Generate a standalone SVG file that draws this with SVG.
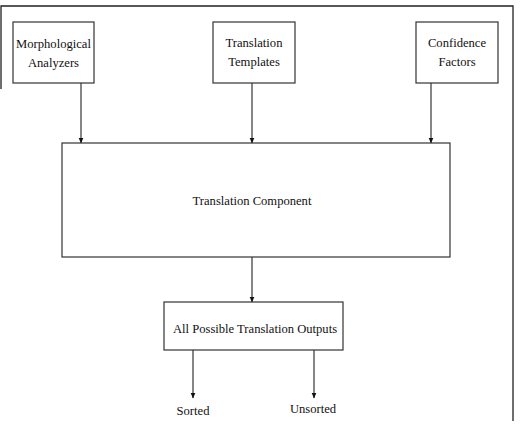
<svg xmlns="http://www.w3.org/2000/svg" width="520" height="426" viewBox="0 0 520 426">
<style>
.box{fill:#fff;stroke:#333;stroke-width:1.2}
.lbl{font-family:"Liberation Serif","Times New Roman",serif;font-size:12.6px;fill:#111;text-anchor:middle}
.con{stroke:#222;stroke-width:1.1;fill:none;marker-end:url(#ah)}
.frame{stroke:#222;stroke-width:1.3;fill:none}
</style>
<defs>
<marker id="ah" markerWidth="6" markerHeight="8" refX="5.5" refY="3" orient="auto" markerUnits="userSpaceOnUse">
<path d="M0,0.5 L6,3 L0,5.5 Z" fill="#111"/>
</marker>
</defs>
<rect width="520" height="426" fill="#fff"/>
<g id="frame">
<path class="frame" d="M1,89 L1,6 L513,6 L513,421"/>
</g>
<g id="connectors">
<line class="con" x1="81" y1="83" x2="81" y2="143"/>
<line class="con" x1="252" y1="83" x2="252" y2="143"/>
<line class="con" x1="431" y1="83" x2="431" y2="143"/>
<line class="con" x1="252" y1="257" x2="252" y2="302"/>
<line class="con" x1="193" y1="350" x2="193" y2="398"/>
<line class="con" x1="314" y1="350" x2="314" y2="398"/>
</g>
<g id="morph">
<rect class="box" x="13" y="22" width="81" height="61"/>
<text class="lbl" x="53.5" y="48">Morphological</text>
<text class="lbl" x="53.5" y="67">Analyzers</text>
</g>
<g id="templates">
<rect class="box" x="213" y="22" width="82" height="61"/>
<text class="lbl" x="254" y="47">Translation</text>
<text class="lbl" x="254" y="66">Templates</text>
</g>
<g id="confidence">
<rect class="box" x="416" y="22" width="82" height="61"/>
<text class="lbl" x="457" y="47">Confidence</text>
<text class="lbl" x="457" y="66">Factors</text>
</g>
<g id="component">
<rect class="box" x="62" y="143" width="388" height="114"/>
<text class="lbl" x="252" y="205">Translation Component</text>
</g>
<g id="outputs">
<rect class="box" x="164" y="302" width="179" height="48"/>
<text class="lbl" x="255" y="333">All Possible Translation Outputs</text>
</g>
<g id="sorted">
<text class="lbl" x="193" y="415">Sorted</text>
</g>
<g id="unsorted">
<text class="lbl" x="313" y="413">Unsorted</text>
</g>
</svg>
